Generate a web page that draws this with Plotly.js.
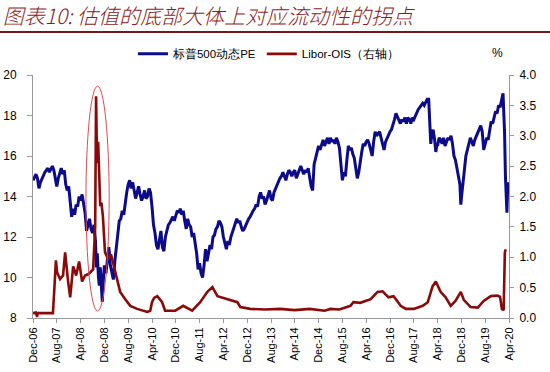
<!DOCTYPE html>
<html>
<head>
<meta charset="utf-8">
<script src="https://cdn.plot.ly/plotly-3.0.1.min.js"></script>
<style>html,body{margin:0;padding:0;background:#fff;}#chart{width:550px;height:372px;}</style>
</head>
<body>
<div id="chart"></div>
<script>
// Tick labels (x axis, months since Dec-06)
const tickMonths = [0,8,16,24,32,40,48,56,64,72,80,88,96,104,112,120,128,136,144,152,160];
const tickLabels = ["Dec-06","Aug-07","Apr-08","Dec-08","Aug-09","Apr-10","Dec-10","Aug-11","Apr-12","Dec-12","Aug-13","Apr-14","Dec-14","Aug-15","Apr-16","Dec-16","Aug-17","Apr-18","Dec-18","Aug-19","Apr-20"];

// S&P 500 forward PE (left axis): months since Dec-06, value
const peMonth = [0,0.5,1,1.5,2,2.5,3,3.5,4,4.5,5,5.5,6,6.5,7,7.5,8,8.5,9,9.5,10,10.5,11,11.5,12,12.5,13,13.5,14,14.5,15,15.5,16,16.5,17,17.5,18,18.5,19,19.5,20,20.5,21,21.3,21.6,22,22.3,22.6,23,23.3,23.6,24,24.5,25,25.5,26,26.5,27,27.5,28,28.5,29,29.5,30,30.5,31,31.5,32,32.5,33,33.5,34,34.5,35,35.5,36,36.5,37,37.5,38,38.5,39,39.5,40,40.5,41,41.5,42,42.5,43,43.5,44,44.5,45,45.5,46,46.5,47,47.5,48,48.5,49,49.5,50,50.5,51,51.5,52,52.5,53,53.5,54,54.5,55,55.5,56,56.5,57,57.5,58,58.5,59,59.5,60,60.5,61,61.5,62,62.5,63,63.5,64,64.5,65,65.5,66,66.5,67,67.5,68,68.5,69,69.5,70,70.5,71,71.5,72,72.5,73,73.5,74,74.5,75,75.5,76,76.5,77,77.5,78,78.5,79,79.5,80,80.5,81,81.5,82,82.5,83,83.5,84,84.5,85,85.5,86,86.5,87,87.5,88,88.5,89,89.5,90,90.5,91,91.5,92,92.5,93,93.5,94,94.5,95,95.5,96,96.5,97,97.5,98,98.5,99,99.5,100,100.5,101,101.5,102,102.5,103,103.5,104,104.5,105,105.5,106,106.5,107,107.5,108,108.5,109,109.5,110,110.5,111,111.5,112,112.5,113,113.5,114,114.5,115,115.5,116,116.5,117,117.5,118,118.5,119,119.5,120,120.5,121,121.5,122,122.5,123,123.5,124,124.5,125,125.5,126,126.5,127,127.5,128,128.5,129,129.5,130,130.5,131,131.5,132,132.5,133,133.3,133.7,134,134.5,135,135.4,135.8,136,136.5,137,137.5,138,138.5,139,139.5,140,140.5,141,141.5,142,142.5,143,143.5,143.8,144.2,144.5,145,145.5,146,146.5,147,147.5,148,148.5,149,149.5,150,150.5,151,151.5,152,152.5,153,153.5,154,154.5,155,155.5,156,156.5,157,157.5,158,158.2,158.5,158.8,159,159.3,159.6];
const peValue = [14.8,15.0,15.1,14.9,14.4,14.7,14.9,15.1,15.2,15.3,15.4,15.2,15.4,15.5,15.3,14.8,14.5,14.9,15.2,15.4,15.1,15.3,14.6,14.3,14.5,13.5,13.0,13.4,13.1,13.6,13.5,14.0,13.8,14.1,13.6,13.2,12.3,12.6,12.9,12.4,12.2,12.6,11.8,10.5,11.2,10.0,9.6,10.5,9.4,8.8,9.8,10.6,10.2,10.9,11.5,10.6,10.3,9.9,10.8,11.6,12.2,12.8,12.9,13.3,13.1,13.8,14.2,14.6,14.8,14.4,14.7,14.3,13.9,14.2,14.5,14.1,13.8,14.0,14.3,13.9,14.0,14.4,14.2,13.5,12.6,12.2,11.6,11.4,12.0,12.3,11.5,11.3,12.0,12.3,12.6,12.7,12.9,13.0,12.8,13.1,13.3,13.2,13.4,13.1,13.3,12.8,12.4,12.9,12.6,12.5,12.0,12.2,11.7,11.2,10.4,10.7,10.2,10.0,10.6,11.4,10.8,11.2,11.6,11.4,12.0,12.1,12.4,12.5,12.8,12.7,12.5,12.0,11.7,11.4,11.8,11.6,12.0,12.2,12.4,12.6,12.9,12.7,12.8,12.5,12.3,12.4,12.6,12.8,12.9,13.0,13.2,13.3,13.4,13.6,13.5,14.0,14.2,13.9,14.0,13.6,13.8,14.1,14.3,13.9,13.8,14.2,14.4,14.6,14.8,14.9,15.0,15.2,15.0,14.8,15.1,15.3,15.2,15.0,15.2,15.3,14.9,15.1,15.4,15.5,15.3,15.1,15.3,15.2,15.4,14.9,14.5,14.3,15.6,15.9,16.2,16.5,16.3,16.6,16.8,16.5,16.7,16.9,16.6,16.9,16.7,16.8,16.6,16.9,16.7,16.4,15.6,14.8,15.2,15.0,15.8,16.5,16.3,16.4,16.1,15.9,15.4,14.9,15.2,15.8,16.2,16.6,16.5,16.7,16.8,16.6,16.3,16.0,16.7,17.2,17.0,17.1,17.2,16.9,16.5,16.3,16.7,16.9,17.1,17.2,17.3,17.5,17.8,18.1,17.9,17.7,17.6,17.8,17.7,17.9,17.6,17.9,17.8,17.6,17.9,17.8,18.0,18.1,18.3,18.4,18.5,18.6,18.5,18.7,18.8,18.8,17.4,16.6,17.0,17.3,16.8,16.2,16.6,16.5,16.9,16.8,16.6,16.9,16.5,16.7,16.9,16.8,17.0,16.6,16.0,15.8,15.3,15.0,14.6,13.6,14.2,14.8,15.3,16.0,16.3,16.6,16.9,16.7,16.5,16.8,17.0,17.1,17.3,17.5,17.2,16.3,16.6,16.9,16.8,17.3,17.7,17.6,17.9,18.2,18.1,18.5,18.4,18.8,19.1,18.3,17.2,15.0,14.2,13.2,14.7];

// Libor-OIS spread (right axis, %): months since Dec-06, value
const liborMonth = [0,1,1.4,1.5,1.8,3,5,6.7,7.2,7.7,8.1,9.1,10.1,10.8,11.8,12.5,13.5,14.5,15.5,16.5,17.5,18.5,19.2,20.2,20.9,21.2,21.4,21.6,21.9,22.3,22.6,23,23.5,24.2,25.3,26.2,26.9,28.3,29.3,31,32.7,35,38.4,39.4,40,40.7,41.8,43.4,44.4,47.8,50.5,53.5,56.2,58.6,60.3,62,65.3,68.7,69.7,73,78,83,88,93,98,100,103,106.7,107.7,110,113.5,115.8,117.5,119.5,121.2,123.6,125.3,128,131,132.7,134.3,135.4,137,138.7,140.4,142,143.8,144.8,147.1,149.5,151.5,153.9,156.2,157,157.6,158.2,158.6,158.9];
const liborValue = [0.08,0.09,0.02,0.09,0.08,0.08,0.08,0.08,0.5,0.95,0.75,0.64,0.7,1.08,0.6,0.34,0.85,0.7,0.93,0.6,0.7,0.72,0.75,0.8,1.5,3.65,3.0,2.55,2.9,2.28,1.84,1.9,1.67,1.08,0.97,1.05,0.92,0.64,0.43,0.31,0.2,0.15,0.1,0.12,0.26,0.33,0.36,0.26,0.12,0.12,0.2,0.12,0.26,0.43,0.51,0.36,0.31,0.26,0.18,0.15,0.14,0.15,0.13,0.15,0.12,0.15,0.14,0.2,0.26,0.25,0.31,0.43,0.44,0.34,0.36,0.2,0.15,0.15,0.2,0.26,0.52,0.6,0.43,0.34,0.2,0.28,0.43,0.3,0.18,0.17,0.28,0.36,0.37,0.35,0.15,0.13,1.08,1.13];

const seriesNames = ["标普500动态PE", "Libor-OIS（右轴）"];
const titleText = "图表10: 估值的底部大体上对应流动性的拐点";

const traces = [
  {x: peMonth, y: peValue, type: 'scatter', mode: 'lines', name: seriesNames[0],
   line: {color: '#0C0C8A', width: 3}, yaxis: 'y'},
  {x: liborMonth, y: liborValue, type: 'scatter', mode: 'lines', name: seriesNames[1],
   line: {color: '#8A0A0A', width: 2.6}, yaxis: 'y2'}
];

const axisFont = {family: 'Liberation Sans, Arial, sans-serif', size: 12, color: '#000'};

const layout = {
  width: 550, height: 372,
  margin: {l: 33, r: 41, t: 75, b: 54, pad: 0},
  paper_bgcolor: '#fff', plot_bgcolor: '#fff',
  title: {text: titleText, x: 0.005, xanchor: 'left', xref: 'container',
          y: 0.955, yanchor: 'middle', yref: 'container',
          font: {family: 'Noto Sans CJK SC', size: 21, color: '#8B1C24', style: 'italic', weight: 300}},
  showlegend: true,
  legend: {orientation: 'h', x: 0.21, xanchor: 'left', y: 1.087, yanchor: 'middle',
           font: {family: 'Liberation Sans, Arial, sans-serif', size: 11.5, color: '#000'},
           bgcolor: 'rgba(0,0,0,0)', itemwidth: 30, tracegroupgap: 0},
  xaxis: {range: [0, 160], tickmode: 'array', tickvals: tickMonths, ticktext: tickLabels,
          tickangle: -90, ticks: 'outside', ticklen: 4, tickcolor: '#999',
          showline: true, linecolor: '#999', linewidth: 1, showgrid: false, zeroline: false,
          tickfont: {family: 'Liberation Sans, Arial, sans-serif', size: 11, color: '#000'}},
  yaxis: {range: [8, 20], dtick: 2, ticks: 'outside', ticklen: 5, tickcolor: '#999',
          showline: true, linecolor: '#999', linewidth: 1, showgrid: false, zeroline: false,
          tickfont: axisFont, ticklabelstandoff: 8},
  yaxis2: {range: [0, 4], dtick: 0.5, tickformat: '.1f', overlaying: 'y', side: 'right',
           ticks: 'outside', ticklen: 4, tickcolor: '#999',
           showline: true, linecolor: '#999', linewidth: 1, showgrid: false, zeroline: false,
           tickfont: axisFont, ticklabelstandoff: 3},
  shapes: [
    {type: 'line', xref: 'paper', yref: 'paper', x0: -33/476, x1: 517/476,
     y0: (318-32)/243, y1: (318-32)/243, line: {color: '#7A1515', width: 2}},
    {type: 'circle', xref: 'x', yref: 'y', x0: 17.8, x1: 25.6, y0: 8.35, y1: 19.45,
     line: {color: '#E5484D', width: 1}}
  ],
  annotations: [
    {text: '%', xref: 'paper', yref: 'paper', x: (497-33)/476, y: (318-53)/243,
     xanchor: 'center', yanchor: 'middle', showarrow: false,
     font: {family: 'Liberation Sans, Arial, sans-serif', size: 12, color: '#000'}}
  ]
};

Plotly.newPlot('chart', traces, layout, {displayModeBar: false, staticPlot: true});
</script>
</body>
</html>
